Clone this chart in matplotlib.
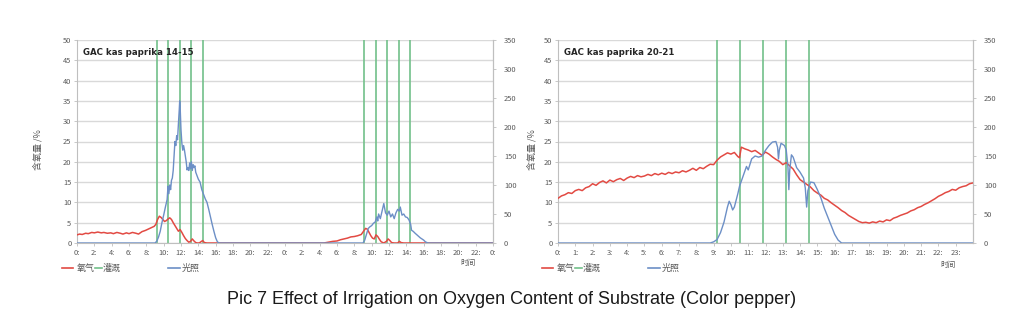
import matplotlib
matplotlib.use("Agg")
import matplotlib.pyplot as plt
from matplotlib.lines import Line2D

plt.rcParams['font.family'] = ['Noto Sans CJK SC', 'DejaVu Sans']

# ---------------- data ----------------
# Chart 1: two days (hours 0-48)
ox1_t = [0, 0.3, 0.6, 1.0, 1.3, 1.7, 2.0, 2.4, 2.8, 3.1, 3.5, 3.9, 4.2, 4.6, 5.0, 5.3,
         5.7, 6.0, 6.4, 6.8, 7.1, 7.5, 7.9, 8.2, 8.6, 8.9, 9.1, 9.3, 9.5, 9.7, 9.9, 10.1,
         10.3, 10.5, 10.7, 10.9, 11.1, 11.3, 11.5, 11.7, 11.9, 12.1, 12.3, 12.5, 12.7,
         12.9, 13.1, 13.3, 13.5, 13.7, 13.9, 14.1, 14.3, 14.5, 14.7, 15.0,
         28.5, 29.0, 29.5, 30.0, 30.4, 30.8, 31.2, 31.6, 32.0, 32.4, 32.8, 33.1, 33.3,
         33.5, 33.7, 33.9, 34.1, 34.3, 34.5, 34.7, 34.9, 35.1, 35.4, 35.7, 35.9, 36.1,
         36.3, 36.6, 37.0, 37.2, 37.4, 37.7, 48.0]
ox1_v = [2.0, 2.2, 2.1, 2.4, 2.3, 2.6, 2.5, 2.7, 2.5, 2.6, 2.4, 2.5, 2.3, 2.6, 2.4, 2.2,
         2.5, 2.3, 2.6, 2.4, 2.2, 2.8, 3.1, 3.4, 3.8, 4.1, 4.6, 5.8, 6.6, 6.3, 5.8, 5.3,
         5.5, 5.9, 6.2, 5.8, 5.0, 4.3, 3.6, 2.9, 3.3, 2.6, 1.8, 1.1, 0.6,
         0.2, 0.4, 1.0, 0.5, 0.1, 0.0, 0.0, 0.3, 0.6, 0.1, 0.0,
         0.0, 0.2, 0.4, 0.5, 0.8, 1.0, 1.2, 1.5, 1.6, 1.8, 2.1, 3.0, 3.6,
         3.4, 2.6, 1.8, 1.2, 1.0, 2.0, 1.6, 0.9, 0.3, 0.0, 0.4, 1.0, 0.6,
         0.1, 0.0, 0.0, 0.4, 0.1, 0.0, 0.0]

light1_t = [0, 9.0, 9.2, 9.4, 9.6, 9.8, 10.0, 10.2, 10.4, 10.5, 10.6, 10.7, 10.8, 10.9,
            11.0, 11.1, 11.2, 11.3, 11.4, 11.5, 11.6, 11.7, 11.8, 11.85, 11.9, 12.0, 12.1,
            12.2, 12.3, 12.4, 12.5, 12.6, 12.7, 12.8, 12.9, 13.0, 13.1, 13.2, 13.3, 13.4,
            13.5, 13.6, 13.7, 13.8, 14.0, 14.2, 14.4, 14.6, 14.8, 15.0, 15.2, 15.4, 15.6,
            15.8, 16.0, 16.2, 16.4,
            33.0, 33.2, 33.4, 33.6, 33.8, 34.0, 34.2, 34.4, 34.6, 34.7, 34.8, 35.0, 35.2,
            35.4, 35.5, 35.6, 35.8, 36.0, 36.2, 36.4, 36.6, 36.8, 37.0, 37.2, 37.3, 37.5,
            37.7, 37.9, 38.1, 38.3, 38.5, 38.6, 38.8, 39.0, 39.3, 39.6, 40.0, 40.2, 40.5,
            48.0]
light1_v = [0, 0, 3, 10, 20, 35, 48, 62, 75, 98, 85, 100, 92, 108,
            112, 125, 150, 175, 168, 185, 178, 205, 230, 245, 235, 195, 172,
            160, 168, 160, 150, 140, 126, 130, 125, 138, 128, 140, 125, 135,
            130, 133, 122, 118, 110, 105, 92, 84, 76, 70, 58, 45, 32,
            20, 9, 2, 0,
            0, 5, 15, 25, 28, 30, 34, 36, 45, 38, 50, 42, 55,
            68, 60, 52, 48, 55, 45, 50, 42, 52, 58, 55, 62, 48,
            50, 45, 44, 40, 32, 22, 20, 17, 13, 9, 5, 2, 0,
            0]

# Chart 2: one day (hours 0-24)
ox2_t = [0.0, 0.2, 0.4, 0.6, 0.8, 1.0, 1.2, 1.4, 1.6, 1.8, 2.0, 2.2, 2.4, 2.6, 2.8, 3.0,
         3.2, 3.4, 3.6, 3.8, 4.0, 4.2, 4.4, 4.6, 4.8, 5.0, 5.2, 5.4, 5.6, 5.8, 6.0, 6.2,
         6.4, 6.6, 6.8, 7.0, 7.2, 7.4, 7.6, 7.8, 8.0, 8.2, 8.4, 8.6, 8.8, 9.0, 9.2, 9.4,
         9.6, 9.8, 10.0, 10.2, 10.4, 10.5, 10.6, 10.8, 11.0, 11.2, 11.4, 11.6, 11.8, 12.0,
         12.2, 12.4, 12.6, 12.8, 13.0, 13.2, 13.4, 13.6, 13.8, 14.0, 14.2, 14.4, 14.6,
         14.8, 15.0, 15.2, 15.4, 15.6, 15.8, 16.0, 16.2, 16.4, 16.6, 16.8, 17.0, 17.2,
         17.4, 17.6, 17.8, 18.0, 18.2, 18.4, 18.6, 18.8, 19.0, 19.2, 19.4, 19.6, 19.8,
         20.0, 20.2, 20.4, 20.6, 20.8, 21.0, 21.2, 21.4, 21.6, 21.8, 22.0, 22.2, 22.4,
         22.6, 22.8, 23.0, 23.2, 23.4, 23.6, 23.8, 24.0]
ox2_v = [11.0, 11.6, 11.9, 12.4, 12.2, 12.9, 13.2, 12.9, 13.6, 13.9, 14.6, 14.2, 14.9,
         15.3, 14.8, 15.5, 15.1, 15.6, 15.9, 15.4, 16.0, 16.4, 16.1, 16.6, 16.3, 16.5,
         16.9, 16.6, 17.1, 16.8, 17.2, 16.9, 17.4, 17.1, 17.5, 17.3, 17.8, 17.5, 17.9,
         18.4, 17.9, 18.6, 18.3, 18.9, 19.4, 19.3, 20.4, 21.2, 21.7, 22.2, 21.9, 22.3,
         21.3, 21.0, 23.6, 23.2, 22.9, 22.5, 22.8, 22.2, 21.6, 22.4, 21.9, 21.2, 20.6,
         20.1, 19.3, 19.8, 19.0, 18.2, 16.8, 15.6, 15.0, 14.4, 13.8, 12.9, 12.3, 11.8,
         11.0, 10.6, 9.9, 9.3, 8.7, 8.0, 7.5, 6.8, 6.3, 5.8, 5.3, 5.0, 5.1, 4.9, 5.2,
         5.0, 5.4, 5.2, 5.7, 5.5, 6.1, 6.4, 6.8, 7.1, 7.4, 7.9, 8.2, 8.7, 9.0, 9.5, 9.9,
         10.4, 10.9, 11.5, 11.9, 12.4, 12.7, 13.2, 13.0, 13.6, 13.9, 14.1, 14.6, 14.8]

light2_t = [0, 8.8, 9.0, 9.2, 9.4, 9.6, 9.8, 9.9, 10.0, 10.1, 10.2, 10.4, 10.5, 10.7,
            10.9, 11.0, 11.2, 11.4, 11.6, 11.8, 12.0, 12.2, 12.4, 12.6, 12.7, 12.75,
            12.8, 12.9, 13.0, 13.1, 13.2, 13.3, 13.35, 13.4, 13.5, 13.6, 13.8, 14.0,
            14.2, 14.3, 14.38, 14.45, 14.6, 14.8, 15.0, 15.2, 15.4, 15.6, 15.8, 16.0,
            16.2, 16.4, 24.0]
light2_v = [0, 0, 2, 6, 18, 36, 62, 72, 66, 57, 62, 85, 98, 115,
            132, 126, 145, 150, 148, 150, 160, 168, 174, 175, 165, 145,
            160, 172, 170, 168, 160, 130, 92, 125, 152, 148, 130, 122,
            112, 95, 62, 90, 105, 104, 92, 78, 60, 45, 30, 15,
            5, 0, 0]

# irrigation events (hour of day)
irrig1 = [9.2, 10.5, 11.85, 13.2, 14.55, 33.15, 34.45, 35.8, 37.1, 38.45]
irrig2 = [9.18, 10.53, 11.86, 13.2, 14.53]

titles = ["GAC kas paprika 14-15", "GAC kas paprika 20-21"]
legend_labels = ["氧气", "灌溉", "光照"]
ylabel = "含氧量 /%"
xlabel = "时间"
caption = "Pic 7 Effect of Irrigation on Oxygen Content of Substrate (Color pepper)"

ticks1 = list(range(0, 49, 2))
ticks2 = list(range(0, 24))

# ---------------- style ----------------
RED = '#e24a43'
GREEN = '#72c08a'
BLUE = '#6c8fc6'
GRID = '#d9d9d9'
TXT = '#595959'

W, H = 1024, 334
fig = plt.figure(figsize=(W / 100, H / 100), dpi=100)


def fx(px):
    return px / W


def fy(py):
    return 1 - py / H


def make_panel(x0, x1, ox_t, ox_v, li_t, li_v, irrig, xlim, ticks, ticklabels, title,
               xlab_px, ylab_px, leg_px):
    ax = fig.add_axes([fx(x0), fy(243), fx(x1 - x0), fy(40) - fy(243)])
    ax.set_xlim(*xlim)
    ax.set_ylim(0, 50)
    ax.set_yticks(range(0, 51, 5))
    ax.yaxis.grid(True, color=GRID, lw=1.0)
    ax.set_axisbelow(True)
    ax.set_xticks(ticks)
    ax.set_xticklabels(ticklabels)
    ax.spines['top'].set_visible(False)
    for s in ['left', 'right', 'bottom']:
        ax.spines[s].set_color('#bfbfbf')
        ax.spines[s].set_linewidth(0.8)
    ax.tick_params(axis='both', labelsize=5.4, colors=TXT, length=2, width=0.6,
                   pad=2)
    ax.tick_params(axis='both', color='#bfbfbf')

    for h in irrig:
        ax.axvline(h, color=GREEN, lw=1.2, zorder=2)
    ax.plot(ox_t, ox_v, color=RED, lw=1.1, zorder=3)

    ax2 = ax.twinx()
    ax2.set_ylim(0, 350)
    ax2.set_yticks(range(0, 351, 50))
    ax2.plot(li_t, li_v, color=BLUE, lw=1.0)
    for s in ['top', 'left', 'bottom']:
        ax2.spines[s].set_visible(False)
    ax2.spines['right'].set_color('#bfbfbf')
    ax2.spines['right'].set_linewidth(0.8)
    ax2.tick_params(axis='y', labelsize=5.4, colors=TXT, length=2, width=0.6, pad=6)
    ax2.tick_params(axis='y', color='#bfbfbf')

    ax.text(0.015, 0.94, title, transform=ax.transAxes, fontsize=6.2,
            fontweight='bold', color='#262626', ha='left', va='center',
            family=['DejaVu Sans'])

    fig.text(fx(ylab_px[0]), fy(ylab_px[1]), ylabel, rotation=90, fontsize=6.5,
             color=TXT, ha='center', va='center')
    fig.text(fx(xlab_px[0]), fy(xlab_px[1]), xlabel, fontsize=5.5, color=TXT,
             ha='center', va='center')

    # legend row
    lx = leg_px
    ly = fy(268)
    entries = [(RED, lx, lx + 11, lx + 15),
               (GREEN, lx + 33, lx + 40, lx + 41),
               (BLUE, lx + 106, lx + 118, lx + 120)]
    for (col, a, b, t), lab in zip(entries, legend_labels):
        fig.add_artist(Line2D([fx(a), fx(b)], [ly, ly], color=col, lw=1.2,
                              transform=fig.transFigure))
        fig.text(fx(t), ly, lab, fontsize=6.5, color=TXT, ha='left', va='center')
    return ax


labels1 = [f"{h % 24}:" for h in ticks1]
labels2 = [f"{h}:" for h in ticks2]

make_panel(77, 493, ox1_t, ox1_v, light1_t, light1_v, irrig1, (0, 48), ticks1, labels1,
           titles[0], (468, 263), (38, 150), 62)
make_panel(558, 973, ox2_t, ox2_v, light2_t, light2_v, irrig2, (0, 24), ticks2, labels2,
           titles[1], (948, 265), (532, 150), 542)

fig.text(0.5, fy(300), caption, ha='center', va='center', fontsize=13,
         color='#1a1a1a', family=['Liberation Sans'])

fig.savefig("out.png", dpi=100, facecolor='white')
